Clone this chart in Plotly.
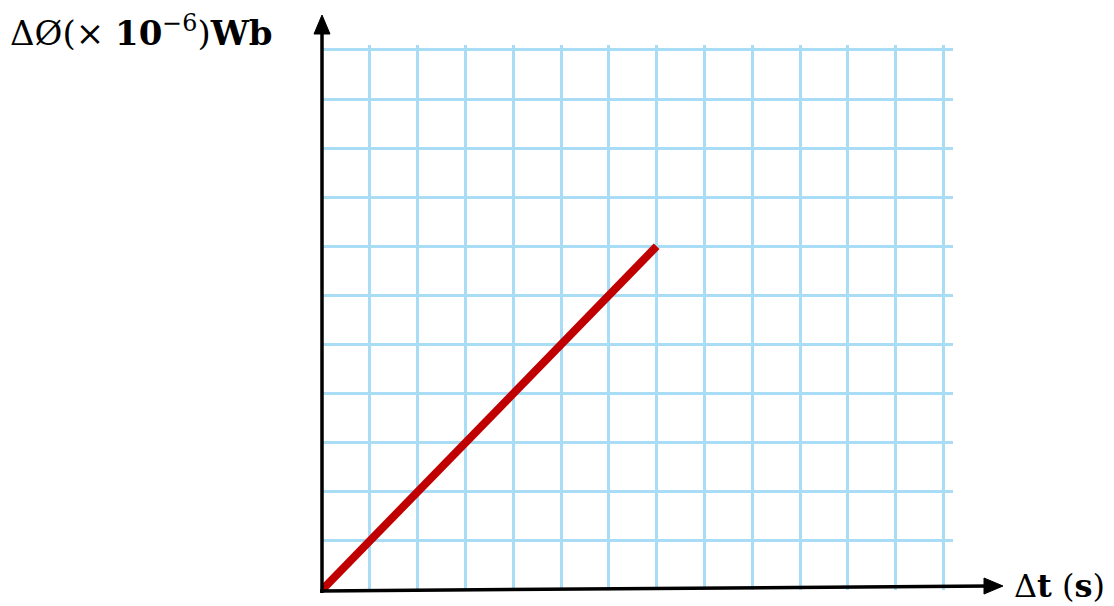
import plotly.graph_objects as go

# data
dt = [0, 7]
dphi = [0, 7]
x_grid = list(range(1, 14))
y_grid = list(range(1, 12))

# page offset from the default body margin
OFF = 8
W, H = 1114 - OFF, 606 - OFF
GRID = "#a9dcf5"
RED = "#c00000"
FONT = "DejaVu Serif"

# plot area on the page: x 322..953, y 45..590
PL, PR, PT, PB = 322, 953, 45, 590


def px(x):
    return (x - PL) / (PR - PL)


def py(y):
    return (PB - y) / (PB - PT)


fig = go.Figure()
fig.add_trace(go.Scatter(
    x=dt, y=dphi, mode="lines",
    line=dict(color=RED, width=8),
    cliponaxis=False, hoverinfo="skip", showlegend=False,
))

# axis lines
fig.add_shape(type="line", xref="paper", yref="paper",
              x0=px(322), y0=py(593), x1=px(322), y1=py(28),
              line=dict(color="black", width=3.5))
fig.add_shape(type="line", xref="paper", yref="paper",
              x0=px(320), y0=py(591), x1=px(990), y1=py(586),
              line=dict(color="black", width=3.5))
# arrow heads
fig.add_shape(type="path", xref="paper", yref="paper",
              xsizemode="pixel", ysizemode="pixel",
              xanchor=px(322), yanchor=py(15),
              path="M0,0 L-8,-19 L8,-19 Z",
              fillcolor="black", line=dict(color="black", width=1))
fig.add_shape(type="path", xref="paper", yref="paper",
              xsizemode="pixel", ysizemode="pixel",
              xanchor=px(1003), yanchor=py(586),
              path="M0,0 L-19,8 L-19,-8 Z",
              fillcolor="black", line=dict(color="black", width=1))

fig.add_annotation(x=px(8), y=py(31), xref="paper", yref="paper",
                   xanchor="left", yanchor="middle",
                   text="ΔØ(× <b>10</b><sup>−6</sup>)<b>Wb</b>", showarrow=False,
                   font=dict(family=FONT, size=34, color="black"))
fig.add_annotation(x=px(1012), y=py(586), xref="paper", yref="paper",
                   xanchor="left", yanchor="middle",
                   text="Δ<b>t</b> (<b>s</b>)", showarrow=False,
                   font=dict(family=FONT, size=32, color="black"))

fig.update_xaxes(range=[0, 13.2], tickvals=x_grid, showticklabels=False,
                 showgrid=True, gridcolor=GRID, gridwidth=2.5, zeroline=False,
                 showline=False, fixedrange=True)
fig.update_yaxes(range=[0, 11.1], tickvals=y_grid, showticklabels=False,
                 showgrid=True, gridcolor=GRID, gridwidth=2.5, zeroline=False,
                 showline=False, fixedrange=True)

fig.update_layout(
    width=W, height=H,
    margin=dict(l=PL - OFF, r=1114 - PR, t=PT - OFF, b=606 - PB),
    paper_bgcolor="white", plot_bgcolor="white",
)

fig.write_html("out.html", config={"displayModeBar": False})
